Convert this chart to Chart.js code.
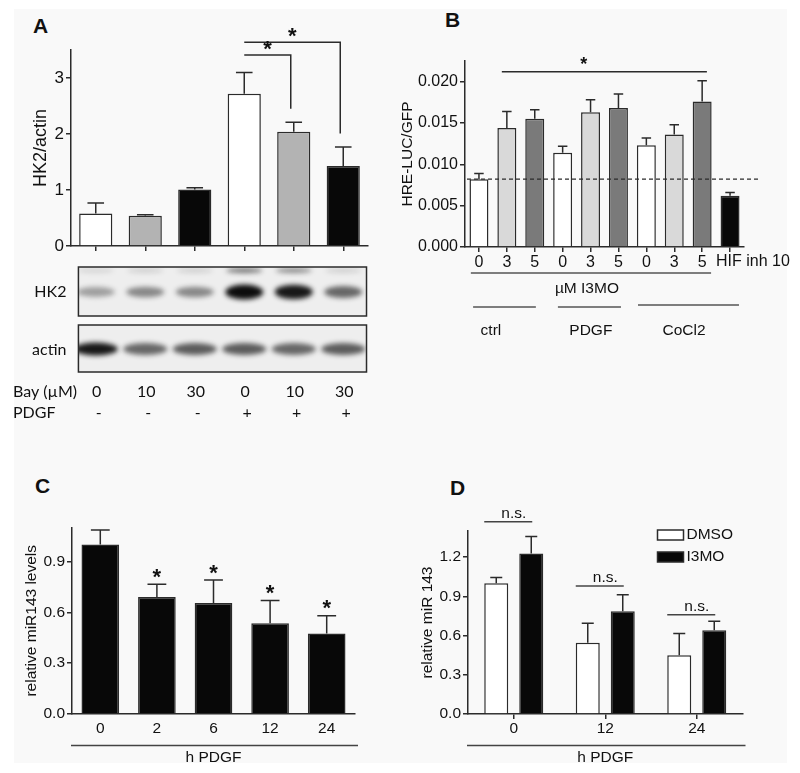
<!DOCTYPE html>
<html>
<head>
<meta charset="utf-8">
<script src="https://cdn.jsdelivr.net/npm/chart.js@4.4.0/dist/chart.umd.min.js"></script>
<style>
  body { margin: 0; background: #fff; }
  #sheet { position: absolute; left: 14px; top: 9px; width: 773px; height: 754px; background: #f9f9f9; }
  canvas { position: absolute; }
  .letter { position: absolute; font: bold 21px 'Liberation Sans', Arial, sans-serif; line-height: 21px; color: #111; }
</style>
</head>
<body>
<div id="sheet"></div>
<div class="letter" style="left:33px;top:15px">A</div>
<div class="letter" style="left:445px;top:9px">B</div>
<div class="letter" style="left:35px;top:475px">C</div>
<div class="letter" style="left:450px;top:477px">D</div>
<canvas id="chartA" width="400" height="430" style="left:0;top:0"></canvas>
<canvas id="chartB" width="410" height="430" style="left:390px;top:0"></canvas>
<canvas id="chartC" width="400" height="303" style="left:0;top:470px"></canvas>
<canvas id="chartD" width="410" height="303" style="left:390px;top:470px"></canvas>
<script>
// ---- data ----
// A: HK2 / actin
const bayDoses = ['0', '10', '30', '0', '10', '30'];
const pdgfA = ['-', '-', '-', '+', '+', '+'];
const hk2Mean = [0.58, 0.54, 1.01, 2.72, 2.04, 1.43];
const hk2Sem = [0.19, 0.02, 0.03, 0.38, 0.17, 0.34];
const hk2Band = [0.35, 0.45, 0.45, 1.0, 0.95, 0.6];
const hk2UpperBand = [0.12, 0.15, 0.15, 0.55, 0.45, 0.15];
const actinBand = [0.95, 0.6, 0.65, 0.65, 0.6, 0.65];

// B: HRE reporter
const i3moDoses = ['0', '3', '5', '0', '3', '5', '0', '3', '5', 'HIF inh 10'];
const hreMean = [0.0082, 0.0144, 0.0155, 0.0114, 0.0163, 0.0168, 0.0123, 0.0136, 0.0176, 0.0062];
const hreSem = [0.0007, 0.0020, 0.0011, 0.0008, 0.0015, 0.0017, 0.0009, 0.0012, 0.0025, 0.0004];
const hreBaseline = 0.0082;
const treatGroups = ['ctrl', 'PDGF', 'CoCl2'];

// C: miR143 time course
const hoursC = ['0', '2', '6', '12', '24'];
const mir143Mean = [1.00, 0.69, 0.655, 0.535, 0.475];
const mir143Sem = [0.085, 0.075, 0.135, 0.135, 0.105];
const mir143Sig = ['', '*', '*', '*', '*'];

// D: miR 143 with I3MO
const hoursD = ['0', '12', '24'];
const dmsoMean = [1.00, 0.545, 0.45];
const dmsoSem = [0.045, 0.15, 0.165];
const i3moMean = [1.228, 0.787, 0.64];
const i3moSem = [0.13, 0.125, 0.07];
const nsLevel = [1.47, 0.98, 0.76];

// ---- styling ----
const ink = '#2b2b2b';
const sans = "'Liberation Sans', Arial, sans-serif";
Chart.defaults.font.family = sans;
Chart.defaults.font.size = 15;
Chart.defaults.color = '#111';
Chart.defaults.animation = false;
Chart.defaults.plugins.legend.display = false;
Chart.defaults.plugins.tooltip.enabled = false;

function yAxis(max, step, width, title, titlePad, fmt, tickSize, titleSize) {
  return {
    min: 0, max: max,
    afterFit: s => { s.width = width; },
    border: { color: ink, width: 1.5 },
    grid: { drawOnChartArea: false, color: ink, lineWidth: 1.5, tickLength: 5 },
    ticks: { stepSize: step, includeBounds: false, padding: 2, callback: fmt, font: { size: tickSize } },
    title: { display: true, text: title, padding: { top: titlePad, bottom: 0 }, font: { size: titleSize } }
  };
}

function xAxis(height, drawTicks, pad, extra) {
  return Object.assign({
    afterFit: s => { s.height = height; },
    border: { color: ink, width: 1.5 },
    grid: { drawOnChartArea: false, offset: false, drawTicks: drawTicks, color: ink, lineWidth: 1.5, tickLength: 5 },
    ticks: { padding: pad, autoSkip: false, maxRotation: 0, font: { size: 15.5 } }
  }, extra || {});
}

// error bars: line up from bar top, cap half the bar width
const errorBars = {
  id: 'errorBars',
  afterDatasetsDraw(chart) {
    const ctx = chart.ctx, y = chart.scales.y;
    chart.data.datasets.forEach((ds, i) => {
      if (!ds.sem) return;
      chart.getDatasetMeta(i).data.forEach((bar, j) => {
        const top = y.getPixelForValue(ds.data[j] + ds.sem[j]);
        const half = bar.width / 4;
        ctx.save();
        ctx.strokeStyle = ink;
        ctx.lineWidth = 1.5;
        ctx.beginPath();
        ctx.moveTo(bar.x, bar.y);
        ctx.lineTo(bar.x, top);
        ctx.moveTo(bar.x - half, top);
        ctx.lineTo(bar.x + half, top);
        ctx.stroke();
        ctx.restore();
      });
    });
  }
};

function star(ctx, x, cy, size) {
  ctx.save();
  ctx.font = 'bold ' + size + 'px ' + sans;
  ctx.fillStyle = '#111';
  ctx.textAlign = 'center';
  ctx.textBaseline = 'alphabetic';
  ctx.fillText('*', x, cy + 0.57 * size);
  ctx.restore();
}

function hline(ctx, x1, x2, y, color) {
  ctx.save();
  ctx.strokeStyle = color || ink;
  ctx.lineWidth = 1.5;
  ctx.beginPath();
  ctx.moveTo(x1, y);
  ctx.lineTo(x2, y);
  ctx.stroke();
  ctx.restore();
}

function text(ctx, str, x, y, align, fnt) {
  ctx.save();
  ctx.font = fnt || ('15.5px ' + sans);
  ctx.fillStyle = '#111';
  ctx.textAlign = align || 'center';
  ctx.textBaseline = 'middle';
  ctx.fillText(str, x, y);
  ctx.restore();
}

// ---- panel A ----
const sigA = [
  { from: 3, to: 5, level: 3.64, leg: 2.01 },
  { from: 3, to: 4, level: 3.41, leg: 2.45 }
];

function drawBlot(ctx, left, right, top, height, xs, rows) {
  ctx.save();
  ctx.beginPath();
  ctx.rect(left, top, right - left, height);
  ctx.clip();
  ctx.fillStyle = '#eeeeee';
  ctx.fillRect(left, top, right - left, height);
  ctx.filter = 'blur(2.5px)';
  rows.forEach(row => {
    row.level.forEach((v, i) => {
      ctx.fillStyle = 'rgba(12,12,12,' + v + ')';
      ctx.beginPath();
      ctx.ellipse(xs[i], top + row.dy, row.rx, row.ry + row.grow * v, 0, 0, Math.PI * 2);
      ctx.fill();
    });
  });
  ctx.restore();
  ctx.save();
  ctx.strokeStyle = ink;
  ctx.lineWidth = 1.5;
  ctx.strokeRect(left, top, right - left, height);
  ctx.restore();
}

const panelA = {
  id: 'panelA',
  afterDraw(chart) {
    const { ctx, chartArea: ca, scales: { x, y } } = chart;
    sigA.forEach(s => {
      const x1 = x.getPixelForValue(s.from), x2 = x.getPixelForValue(s.to) - 3;
      const yl = y.getPixelForValue(s.level);
      ctx.save();
      ctx.strokeStyle = ink;
      ctx.lineWidth = 1.5;
      ctx.beginPath();
      ctx.moveTo(x1, yl);
      ctx.lineTo(x2, yl);
      ctx.lineTo(x2, y.getPixelForValue(s.leg));
      ctx.stroke();
      ctx.restore();
      star(ctx, (x1 + x2) / 2, yl - 12, 22);
    });
    const lanes = bayDoses.map((d, i) => x.getPixelForValue(i));
    const L = x.getPixelForValue(-0.35), R = x.getPixelForValue(5.47);
    drawBlot(ctx, L, R, ca.bottom + 21, 49, lanes, [
      { level: hk2UpperBand, dy: 3.5, rx: 18, ry: 2, grow: 1 },
      { level: hk2Band, dy: 25, rx: 19, ry: 3.5, grow: 4 }
    ]);
    drawBlot(ctx, L, R, ca.bottom + 79, 47, lanes, [
      { level: actinBand, dy: 24, rx: 22, ry: 5, grow: 1.5 }
    ]);
    const lato = '16px Lato, sans-serif';
    text(ctx, 'HK2', L - 12, ca.bottom + 46, 'right', lato);
    text(ctx, 'actin', L - 12, ca.bottom + 104, 'right', lato);
    text(ctx, 'Bay (µM)', 13, ca.bottom + 146, 'left', lato);
    text(ctx, 'PDGF', 13, ca.bottom + 167, 'left', lato);
    bayDoses.forEach((d, i) => text(ctx, d, lanes[i] + 1, ca.bottom + 146, 'center', lato));
    pdgfA.forEach((d, i) => text(ctx, d, lanes[i] + 3, ca.bottom + 167, 'center', lato));
  }
};

new Chart(document.getElementById('chartA'), {
  type: 'bar',
  data: {
    labels: bayDoses,
    datasets: [{
      data: hk2Mean,
      sem: hk2Sem,
      backgroundColor: ['#ffffff', '#b3b3b3', '#080808', '#ffffff', '#b3b3b3', '#080808'],
      borderColor: ink,
      borderWidth: 1.5,
      categoryPercentage: 1,
      barPercentage: 0.67
    }]
  },
  options: {
    responsive: false,
    layout: { padding: { left: 0, right: 32, top: 50, bottom: 174 } },
    scales: {
      x: xAxis(10, true, 0, { ticks: { display: false } }),
      y: yAxis(3.5, 1, 71, 'HK2/actin', 30, v => v, 17, 18)
    }
  },
  plugins: [errorBars, panelA]
});

// ---- panel B ----
const i3moBars = ['#ffffff', '#d9d9d9', '#7a7a7a', '#ffffff', '#d9d9d9', '#7a7a7a', '#ffffff', '#d9d9d9', '#7a7a7a', '#080808'];
const groupSpans = [[-0.21, 2.04, 0.43, 0], [2.83, 5.09, 4.01, 0], [5.70, 9.32, 7.35, -2]];

const panelB = {
  id: 'panelB',
  afterDraw(chart) {
    const { ctx, chartArea: ca, scales: { x, y } } = chart;
    // dashed reference at control level
    ctx.save();
    ctx.strokeStyle = ink;
    ctx.lineWidth = 1.2;
    ctx.setLineDash([4, 3]);
    ctx.beginPath();
    ctx.moveTo(ca.left + 2, y.getPixelForValue(hreBaseline));
    ctx.lineTo(x.getPixelForValue(10.08), y.getPixelForValue(hreBaseline));
    ctx.stroke();
    ctx.restore();
    // significance
    hline(ctx, x.getPixelForValue(0.82), x.getPixelForValue(8.17), y.getPixelForValue(0.0212));
    star(ctx, x.getPixelForValue(3.76), y.getPixelForValue(0.0227), 18);
    // last tick label, left-shifted like the original
    const last = i3moDoses.length - 1;
    text(ctx, i3moDoses[last], x.getPixelForValue(last) - 14, ca.bottom + 15, 'left', '16px ' + sans);
    // dose bracket
    hline(ctx, x.getPixelForValue(-0.29), x.getPixelForValue(8.32), ca.bottom + 26, '#555');
    text(ctx, 'µM I3MO', x.getPixelForValue(3.87), ca.bottom + 42);
    treatGroups.forEach((g, i) => {
      const s = groupSpans[i];
      hline(ctx, x.getPixelForValue(s[0]), x.getPixelForValue(s[1]), ca.bottom + 60 + s[3], '#555');
      text(ctx, g, x.getPixelForValue(s[2]), ca.bottom + 84);
    });
  }
};

new Chart(document.getElementById('chartB'), {
  type: 'bar',
  data: {
    labels: i3moDoses,
    datasets: [{
      data: hreMean,
      sem: hreSem,
      backgroundColor: i3moBars,
      borderColor: ink,
      borderWidth: 1.5,
      categoryPercentage: 1,
      barPercentage: 0.68
    }]
  },
  options: {
    responsive: false,
    layout: { padding: { left: 0, right: 56, top: 61, bottom: 153 } },
    scales: {
      x: xAxis(30, true, 1, {
        ticks: {
          padding: 1, autoSkip: false, maxRotation: 0, font: { size: 16 },
          callback(v, i) { return i === i3moDoses.length - 1 ? '' : this.getLabelForValue(v); }
        }
      }),
      y: yAxis(0.0225, 0.005, 75, 'HRE-LUC/GFP', 8, v => v.toFixed(3), 16, 15.5)
    }
  },
  plugins: [errorBars, panelB]
});

// ---- panel C ----
const underline = {
  id: 'underline',
  afterDraw(chart) {
    const ca = chart.chartArea;
    hline(chart.ctx, ca.left - 1, ca.right + 3, ca.bottom + 31.5, '#444');
  }
};

const panelC = {
  id: 'panelC',
  afterDraw(chart) {
    const y = chart.scales.y;
    chart.getDatasetMeta(0).data.forEach((bar, i) => {
      if (!mir143Sig[i]) return;
      star(chart.ctx, bar.x, y.getPixelForValue(mir143Mean[i] + mir143Sem[i]) - 13, 22);
    });
  }
};

new Chart(document.getElementById('chartC'), {
  type: 'bar',
  data: {
    labels: hoursC,
    datasets: [{
      data: mir143Mean,
      sem: mir143Sem,
      backgroundColor: '#080808',
      borderColor: ink,
      borderWidth: 1.5,
      categoryPercentage: 1,
      barPercentage: 0.665
    }]
  },
  options: {
    responsive: false,
    layout: { padding: { left: 0, right: 45, top: 57.5, bottom: 6 } },
    scales: {
      x: xAxis(53, false, 5, { title: { display: true, text: 'h PDGF', font: { size: 15.5 }, padding: { top: 0, bottom: 0 } } }),
      y: yAxis(1.1, 0.3, 72, 'relative miR143 levels', 22, v => v.toFixed(1), 15.5, 15.5)
    }
  },
  plugins: [errorBars, panelC, underline]
});

// ---- panel D ----
const panelD = {
  id: 'panelD',
  afterDraw(chart) {
    const { ctx, chartArea: ca, scales: { x, y } } = chart;
    const a = chart.getDatasetMeta(0).data, b = chart.getDatasetMeta(1).data;
    nsLevel.forEach((lv, i) => {
      const yl = y.getPixelForValue(lv);
      hline(ctx, a[i].x - a[i].width / 2, b[i].x + 1, yl, '#444');
      text(ctx, 'n.s.', x.getPixelForValue(i), yl - 8);
    });
    chart.data.datasets.forEach((ds, k) => {
      const bx = ca.right - 85, by = ca.top - 1 + k * 22;
      ctx.save();
      ctx.fillStyle = ds.backgroundColor;
      ctx.strokeStyle = ink;
      ctx.lineWidth = 1.5;
      ctx.fillRect(bx, by, 26, 10);
      ctx.strokeRect(bx, by, 26, 10);
      ctx.restore();
      text(ctx, ds.label, bx + 29, by + 5, 'left');
    });
  }
};

new Chart(document.getElementById('chartD'), {
  type: 'bar',
  data: {
    labels: hoursD,
    datasets: [
      { label: 'DMSO', data: dmsoMean, sem: dmsoSem, backgroundColor: '#ffffff', borderColor: ink, borderWidth: 1.5 },
      { label: 'I3MO', data: i3moMean, sem: i3moSem, backgroundColor: '#080808', borderColor: ink, borderWidth: 1.5 }
    ]
  },
  options: {
    responsive: false,
    datasets: { bar: { categoryPercentage: 0.765, barPercentage: 0.686 } },
    layout: { padding: { left: 0, right: 57.5, top: 61, bottom: 6 } },
    scales: {
      x: xAxis(53, true, 0, { title: { display: true, text: 'h PDGF', font: { size: 15.5 }, padding: { top: 0, bottom: 0 } } }),
      y: yAxis(1.4, 0.3, 78, 'relative miR 143', 28, v => v.toFixed(1), 15.5, 15.5)
    }
  },
  plugins: [errorBars, panelD, underline]
});
</script>
</body>
</html>
